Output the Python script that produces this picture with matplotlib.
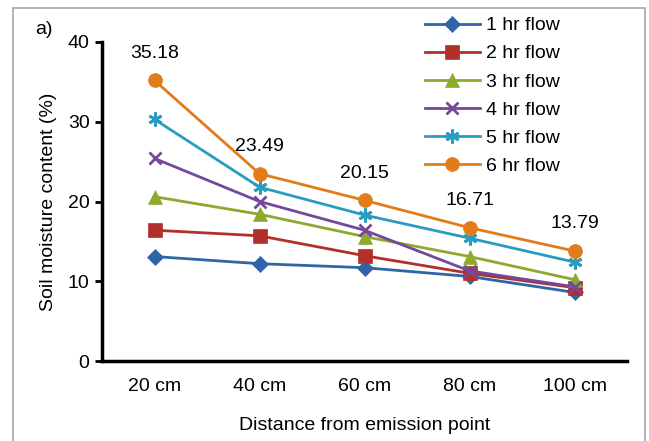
import matplotlib
matplotlib.use("Agg")
import matplotlib.pyplot as plt
from matplotlib.patches import Rectangle

plt.rcParams['font.family'] = ['Liberation Sans', 'DejaVu Sans']

categories = ["20 cm", "40 cm", "60 cm", "80 cm", "100 cm"]
series_names = ["1 hr flow", "2 hr flow", "3 hr flow", "4 hr flow", "5 hr flow", "6 hr flow"]
flow_1hr = [13.1, 12.2, 11.7, 10.6, 8.6]
flow_2hr = [16.4, 15.7, 13.2, 11.0, 9.2]
flow_3hr = [20.6, 18.4, 15.6, 13.1, 10.2]
flow_4hr = [25.4, 20.0, 16.4, 11.3, 9.3]
flow_5hr = [30.3, 21.8, 18.3, 15.4, 12.4]
flow_6hr = [35.18, 23.49, 20.15, 16.71, 13.79]
label_values = ["35.18", "23.49", "20.15", "16.71", "13.79"]
yticks = [0, 10, 20, 30, 40]

colors = ["#2F64A6", "#B2302A", "#8DAA2E", "#74489A", "#2A9CBF", "#E27B1A"]
markers = ["D", "s", "^", "x", (6, 2, 0), "o"]
msizes = [8.5, 9.5, 10, 9, 10, 10]
data = [flow_1hr, flow_2hr, flow_3hr, flow_4hr, flow_5hr, flow_6hr]

FS = 14

fig = plt.figure(figsize=(6.49, 4.41), dpi=100)
ax = fig.add_axes([102/649, 1-361/441, 525/649, 319/441])

x = list(range(len(categories)))
for name, vals, c, m, ms in zip(series_names, data, colors, markers, msizes):
    kw = dict(markeredgewidth=2) if m in ("x", (6, 2, 0)) else dict(markeredgewidth=0.5)
    ax.plot(x, vals, color=c, marker=m, markersize=ms, linewidth=2,
            label=name, markerfacecolor=c, markeredgecolor=c, **kw)

for xi, v, t in zip(x, flow_6hr, label_values):
    ax.annotate(t, (xi, v), xytext=(0, 19.5), textcoords="offset points",
                ha="center", va="center", fontsize=FS)

ax.set_xlim(-0.5, 4.5)
ax.set_ylim(0, 40)
ax.set_yticks(yticks)
ax.set_xticks(x)
ax.set_xticklabels(categories, fontsize=FS)
ax.tick_params(axis='y', labelsize=FS, length=5, width=2, direction='out', pad=4)
ax.tick_params(axis='x', length=0, pad=12)
for s in ["top", "right"]:
    ax.spines[s].set_visible(False)
for s in ["left", "bottom"]:
    ax.spines[s].set_linewidth(2.5)

ax.set_ylabel("Soil moisture content (%)", fontsize=FS, labelpad=8)
ax.set_xlabel("Distance from emission point", fontsize=FS, labelpad=16)

fig.text(35/649, 1-30/441, "a)", fontsize=FS, ha="left", va="center")

leg = ax.legend(loc="upper left", bbox_to_anchor=(417/649, 1-9/441),
                bbox_transform=fig.transFigure, frameon=False, fontsize=FS,
                handlelength=2.85, labelspacing=0.54, handletextpad=0.3,
                borderaxespad=0, borderpad=0.4)

fig.patches.append(Rectangle((13/649, -0.05), (645-13)/649, 1.05-8/441,
                             transform=fig.transFigure, fill=False,
                             edgecolor="#A6A6A6", linewidth=1.2))

fig.savefig("out.png", dpi=100)
